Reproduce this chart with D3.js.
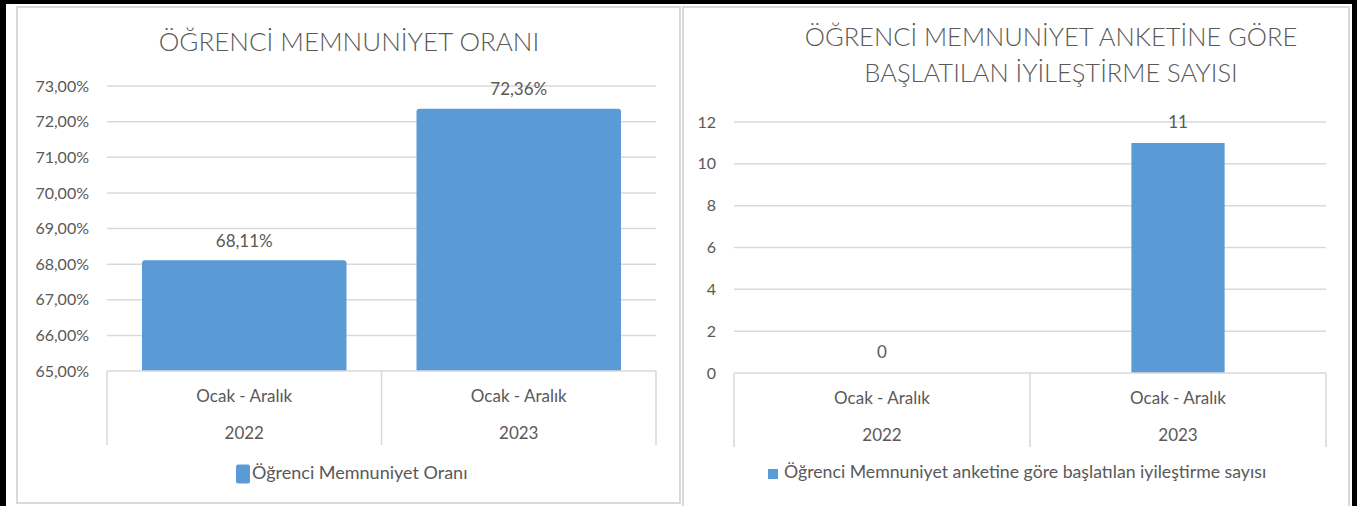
<!DOCTYPE html>
<html><head>
<meta charset="utf-8">
<script src="https://d3js.org/d3.v7.min.js"></script>
<style>
  body { margin: 0; background: #fff; }
  text { font-family: Lato, "Open Sans", sans-serif; fill: #595959; }
</style>
</head>
<body>
<svg id="chart" width="1357" height="506"></svg>
<script>
// chart values
const periods = ["Ocak - Aralık", "Ocak - Aralık"];
const years = ["2022", "2023"];
const satisfactionRates = [68.11, 72.36];
const improvementCounts = [0, 11];
const rateTicks = [65, 66, 67, 68, 69, 70, 71, 72, 73];
const countTicks = [0, 2, 4, 6, 8, 10, 12];

const trLocale = d3.formatLocale({decimal: ",", thousands: ".", grouping: [3], currency: ["", "₺"]});
const pct = v => trLocale.format(".2f")(v) + "%";

const barColor = "#5b9bd5";
const gridColor = "#d9d9d9";

let svg = d3.select("svg#chart");

// black frame strips
svg.append("rect").attr("x", 0).attr("y", 0).attr("width", 1357).attr("height", 4).style("fill", "#000");
svg.append("rect").attr("x", 0).attr("y", 0).attr("width", 6).attr("height", 506).style("fill", "#000");
svg.append("rect").attr("x", 1352).attr("y", 0).attr("width", 5).attr("height", 506).style("fill", "#000");

function drawPanel(cfg) {
  let g = svg.append("g");

  g.append("rect")
    .attr("x", cfg.box[0]).attr("y", cfg.box[1])
    .attr("width", cfg.box[2]).attr("height", cfg.box[3])
    .style("fill", "#fff").style("stroke", gridColor).style("stroke-width", 2);

  // title
  cfg.title.forEach((t, i) => {
    g.append("text")
      .attr("x", cfg.titleX).attr("y", cfg.titleY + i * 36)
      .attr("text-anchor", "middle").attr("dominant-baseline", "middle")
      .style("font-size", cfg.titleFs + "px").style("font-weight", 300)
      .text(t);
  });

  let x = d3.scaleBand().domain(d3.range(cfg.values.length)).range([cfg.left, cfg.right]);
  let y = d3.scaleLinear().domain(cfg.domain).range([cfg.bottom, cfg.top]);

  // gridlines
  g.selectAll(".grid").data(cfg.ticks.slice(1)).join("line")
    .attr("x1", cfg.left).attr("x2", cfg.right)
    .attr("y1", d => y(d)).attr("y2", d => y(d))
    .style("stroke", gridColor).style("stroke-width", 1.5);

  // y axis labels
  let yAxis = d3.axisLeft(y).tickValues(cfg.ticks).tickFormat(cfg.fmt).tickSize(0).tickPadding(cfg.labelPad);
  let ya = g.append("g").attr("transform", `translate(${cfg.left},0)`).call(yAxis);
  ya.select(".domain").remove();
  ya.selectAll("text").style("font-size", cfg.tickFs + "px").style("fill", "#595959")
    .style("font-family", "Lato, 'Open Sans', sans-serif");

  // bars
  let bw = x.bandwidth() * cfg.barRatio;
  g.selectAll(".bar").data(cfg.values).join("path")
    .attr("d", (d, i) => {
      let x0 = x(i) + (x.bandwidth() - bw) / 2;
      let h = y(cfg.domain[0]) - y(d);
      if (h <= 0) return "";
      let r = Math.min(cfg.radius, h);
      return `M${x0},${cfg.bottom} V${y(d) + r} Q${x0},${y(d)} ${x0 + r},${y(d)} H${x0 + bw - r} Q${x0 + bw},${y(d)} ${x0 + bw},${y(d) + r} V${cfg.bottom} Z`;
    })
    .style("fill", barColor);

  // value labels
  g.selectAll(".val").data(cfg.values).join("text")
    .attr("x", (d, i) => x(i) + x.bandwidth() / 2)
    .attr("y", d => y(d) - cfg.valOffset)
    .attr("text-anchor", "middle").attr("dominant-baseline", "middle")
    .style("font-size", cfg.fs + "px")
    .text(d => cfg.valFmt(d));

  // category axis (baseline + dividers)
  g.append("line").attr("x1", cfg.left).attr("x2", cfg.right)
    .attr("y1", cfg.bottom).attr("y2", cfg.bottom)
    .style("stroke", gridColor).style("stroke-width", 1.5);
  let dividers = d3.range(cfg.values.length).map(i => x(i)).concat([cfg.right]);
  g.selectAll(".div").data(dividers).join("line")
    .attr("x1", d => d).attr("x2", d => d)
    .attr("y1", cfg.bottom).attr("y2", cfg.bottom + 74)
    .style("stroke", gridColor).style("stroke-width", 1.5);

  g.selectAll(".per").data(periods).join("text")
    .attr("x", (d, i) => x(i) + x.bandwidth() / 2).attr("y", cfg.bottom + 27)
    .attr("text-anchor", "middle").attr("dominant-baseline", "middle")
    .style("font-size", cfg.fs + "px").text(d => d);
  g.selectAll(".yr").data(years).join("text")
    .attr("x", (d, i) => x(i) + x.bandwidth() / 2).attr("y", cfg.bottom + 64)
    .attr("text-anchor", "middle").attr("dominant-baseline", "middle")
    .style("font-size", cfg.fs + "px").text(d => d);

  // legend
  let lg = cfg.legend;
  g.append("rect").attr("x", lg.x).attr("y", lg.y - lg.h / 2)
    .attr("width", lg.w).attr("height", lg.h).attr("rx", lg.rx)
    .style("fill", barColor);
  g.append("text").attr("x", lg.x + lg.w + lg.gap).attr("y", lg.y)
    .attr("dominant-baseline", "middle")
    .style("font-size", lg.fs + "px").text(lg.label);
}

drawPanel({
  box: [17, 7, 663, 496],
  title: ["ÖĞRENCİ MEMNUNİYET ORANI"],
  titleX: 349, titleY: 45, titleFs: 26,
  values: satisfactionRates,
  domain: [65, 73], ticks: rateTicks,
  fmt: pct, valFmt: pct,
  left: 107, right: 656, top: 86, bottom: 371,
  barRatio: 0.745, radius: 3, valOffset: 18,
  fs: 17, tickFs: 16, labelPad: 18,
  legend: {x: 236, y: 474, w: 14, h: 19, rx: 2, gap: 2, fs: 18, label: "Öğrenci Memnuniyet Oranı"}
});

drawPanel({
  box: [683, 7, 666, 505],
  title: ["ÖĞRENCİ MEMNUNİYET ANKETİNE GÖRE", "BAŞLATILAN İYİLEŞTİRME SAYISI"],
  titleX: 1051, titleY: 40, titleFs: 25.5,
  values: improvementCounts,
  domain: [0, 12], ticks: countTicks,
  fmt: d => d, valFmt: d => d,
  left: 734, right: 1326, top: 122, bottom: 373,
  barRatio: 0.315, radius: 0, valOffset: 19,
  fs: 17, tickFs: 16, labelPad: 18,
  legend: {x: 768, y: 474, w: 10, h: 10, rx: 0, gap: 6, fs: 17.7, label: "Öğrenci Memnuniyet anketine göre başlatılan iyileştirme sayısı"}
});
</script>
</body>
</html>
